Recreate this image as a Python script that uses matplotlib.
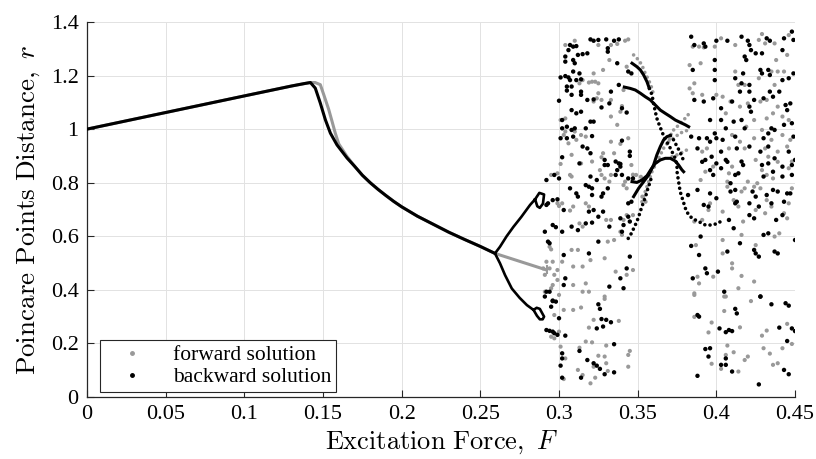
import numpy as np
import matplotlib.pyplot as plt
from matplotlib.lines import Line2D
from matplotlib.ticker import FuncFormatter

plt.rcParams['mathtext.fontset'] = 'cm'
plt.rcParams['font.family'] = ['Liberation Serif', 'DejaVu Serif']

# ---- data (F, r) ----
# stable branch before the first bifurcation
fwd_F = [0, 0.05, 0.1, 0.13, 0.142, 0.145, 0.1483, 0.1504, 0.1536, 0.1557, 0.1578,
         0.16, 0.165, 0.17, 0.175, 0.18, 0.185, 0.19, 0.195, 0.2, 0.21, 0.22, 0.23,
         0.24, 0.25, 0.2593, 0.2922]
fwd_r = [1.0, 1.062, 1.124, 1.161, 1.174, 1.174, 1.166, 1.13, 1.074, 1.03, 0.985,
         0.945, 0.9, 0.862, 0.828, 0.8, 0.775, 0.752, 0.73, 0.71, 0.675, 0.645, 0.615,
         0.588, 0.562, 0.536, 0.474]
bwd_F = [0, 0.05, 0.1, 0.13, 0.138, 0.142, 0.1451, 0.1483, 0.1515, 0.1547, 0.1589,
         0.1653, 0.17, 0.175, 0.18, 0.185, 0.19, 0.195, 0.2, 0.21, 0.22, 0.23, 0.24,
         0.25, 0.2593]
bwd_r = [1.0, 1.062, 1.124, 1.161, 1.170, 1.174, 1.153, 1.097, 1.035, 0.985, 0.941,
         0.892, 0.862, 0.828, 0.8, 0.775, 0.752, 0.73, 0.71, 0.675, 0.645, 0.615, 0.588,
         0.562, 0.536]

# period-2 branches (backward)
up_F = [0.2593, 0.2625, 0.2667, 0.271, 0.276, 0.2816, 0.2848, 0.2875, 0.2905, 0.2898,
        0.2878, 0.2862, 0.2848]
up_r = [0.536, 0.561, 0.600, 0.635, 0.672, 0.717, 0.738, 0.762, 0.756, 0.722,
        0.706, 0.712, 0.738]
lo_F = [0.2593, 0.2625, 0.2657, 0.270, 0.275, 0.2796, 0.2838, 0.2858, 0.2878, 0.2905,
        0.2896, 0.2878, 0.2860, 0.2838]
lo_r = [0.536, 0.499, 0.455, 0.405, 0.370, 0.343, 0.325, 0.333, 0.329, 0.300,
        0.290, 0.290, 0.303, 0.325]

# periodic windows inside the chaotic band (backward, solid)
bB_F = [0.3415, 0.3453, 0.3485, 0.3517, 0.3548, 0.358, 0.3612, 0.3644, 0.3675, 0.3707,
        0.3739, 0.3771, 0.3803, 0.3824]
bB_r = [1.157, 1.152, 1.146, 1.134, 1.121, 1.109, 1.090, 1.071, 1.059, 1.047,
        1.034, 1.025, 1.016, 1.009]
bA_F = [0.3464, 0.3495, 0.3517, 0.3538, 0.3559, 0.3574]
bA_r = [1.246, 1.233, 1.221, 1.202, 1.177, 1.152]
bC_F = [0.3474, 0.3506, 0.3538, 0.357, 0.3601, 0.3622, 0.3644, 0.3665, 0.3686, 0.3707]
bC_r = [0.748, 0.779, 0.804, 0.829, 0.866, 0.904, 0.935, 0.960, 0.972, 0.976]
bD_F = [0.3464, 0.3495, 0.3527, 0.3559, 0.3586, 0.3612, 0.3644, 0.3675, 0.3707, 0.3739,
        0.376, 0.3781, 0.3792]
bD_r = [0.804, 0.801, 0.810, 0.826, 0.851, 0.872, 0.885, 0.891, 0.891, 0.881,
        0.866, 0.848, 0.841]
# dotted (backward)
dA_F = [0.3574, 0.3591, 0.3601, 0.3612, 0.3622, 0.3637, 0.3654, 0.3675, 0.3697, 0.3718,
        0.3739, 0.375, 0.375, 0.376, 0.377, 0.379, 0.381, 0.3845, 0.3887, 0.393, 0.397,
        0.401, 0.404]
dA_r = [1.152, 1.128, 1.096, 1.065, 1.040, 1.016, 0.991, 0.960, 0.941, 0.916,
        0.891, 0.866, 0.841, 0.804, 0.767, 0.729, 0.692, 0.667, 0.655, 0.642, 0.642,
        0.648, 0.661]
dC_F = [0.3707, 0.3728, 0.375, 0.3769, 0.379]
dC_r = [0.976, 0.960, 0.935, 0.915, 0.885]
dF_F = [0.344, 0.346, 0.348, 0.3495, 0.351, 0.3523, 0.3538, 0.3553, 0.3565, 0.358, 0.3591]
dF_r = [0.592, 0.611, 0.636, 0.655, 0.680, 0.704, 0.729, 0.754, 0.779, 0.804, 0.829]
# dotted (forward)
g1_F = [0.3474, 0.3506, 0.3527, 0.3548, 0.357, 0.3591, 0.3601]
g1_r = [1.277, 1.258, 1.239, 1.208, 1.183, 1.152, 1.127]
g2_F = [0.3527, 0.3548, 0.357, 0.3591, 0.3612, 0.3644, 0.3665, 0.3697, 0.3718, 0.375,
        0.3781, 0.3813, 0.3834]
g2_r = [0.729, 0.767, 0.804, 0.841, 0.866, 0.904, 0.929, 0.953, 0.991, 1.009,
        1.028, 1.047, 1.065]
g3_F = [0.3697, 0.3739, 0.3781, 0.3824]
g3_r = [0.953, 0.972, 0.988, 0.997]
g4_F = [0.3718, 0.375, 0.3792, 0.3834]
g4_r = [0.897, 0.904, 0.916, 0.929]

# chaotic Poincare points, backward solution
bwd_chaos_1 = [
    (0.307, 1.314), (0.309, 1.308), (0.311, 1.310), (0.320, 1.335), (0.322, 1.330),
    (0.325, 1.333), (0.330, 1.335), (0.335, 1.330), (0.338, 1.335), (0.331, 1.302),
    (0.331, 1.289), (0.312, 1.277), (0.315, 1.280), (0.318, 1.283), (0.306, 1.295),
    (0.304, 1.271), (0.304, 1.252), (0.309, 1.258), (0.310, 1.246), (0.337, 1.246),
    (0.301, 1.193), (0.304, 1.198), (0.306, 1.193), (0.309, 1.215), (0.313, 1.208),
    (0.307, 1.183), (0.311, 1.183), (0.314, 1.186), (0.338, 1.165), (0.346, 1.208),
    (0.344, 1.215), (0.305, 1.159), (0.308, 1.159), (0.305, 1.144), (0.308, 1.128),
    (0.314, 1.140), (0.314, 1.128), (0.318, 1.109), (0.322, 1.111), (0.327, 1.081),
    (0.332, 1.096), (0.333, 1.140), (0.340, 1.078), (0.343, 1.062), (0.300, 1.106),
    (0.308, 1.071), (0.311, 1.059), (0.314, 1.065), (0.320, 1.028), (0.322, 1.028),
    (0.302, 1.034), (0.302, 1.003), (0.305, 1.009), (0.308, 0.997), (0.310, 1.003),
    (0.317, 1.003), (0.301, 0.966), (0.305, 0.966), (0.309, 0.972), (0.321, 0.974),
    (0.315, 0.935), (0.318, 0.928), (0.320, 0.910), (0.340, 0.957), (0.345, 0.916),
    (0.345, 0.900), (0.302, 0.895), (0.329, 0.885), (0.336, 0.879), (0.313, 0.872),
    (0.339, 0.870),
    (0.292, 0.810), (0.297, 0.829), (0.300, 0.816), (0.296, 0.735), (0.299, 0.738),
    (0.292, 0.717), (0.293, 0.723), (0.303, 0.698), (0.307, 0.779), (0.311, 0.760),
    (0.312, 0.748), (0.320, 0.823), (0.317, 0.791), (0.319, 0.785), (0.321, 0.779),
    (0.324, 0.810), (0.329, 0.866), (0.331, 0.866), (0.338, 0.872), (0.339, 0.860),
    (0.337, 0.847), (0.336, 0.829), (0.340, 0.829), (0.344, 0.816), (0.347, 0.816),
    (0.328, 0.760), (0.331, 0.779), (0.327, 0.748), (0.321, 0.754), (0.346, 0.729),
    (0.344, 0.723), (0.319, 0.692), (0.322, 0.698), (0.328, 0.692), (0.325, 0.673),
    (0.339, 0.667), (0.344, 0.673), (0.345, 0.655), (0.321, 0.651), (0.317, 0.648),
    (0.312, 0.623), (0.308, 0.636), (0.296, 0.642), (0.298, 0.634), (0.302, 0.617),
    (0.291, 0.617), (0.332, 0.636), (0.341, 0.642), (0.340, 0.617), (0.325, 0.580),
    (0.293, 0.580), (0.294, 0.574), (0.303, 0.530), (0.319, 0.536), (0.345, 0.524),
    (0.343, 0.480), (0.339, 0.443), (0.332, 0.412), (0.304, 0.443), (0.303, 0.418),
    (0.341, 0.406), (0.294, 0.393), (0.292, 0.393), (0.296, 0.360),
    (0.291, 0.375), (0.296, 0.358), (0.298, 0.356), (0.295, 0.337), (0.300, 0.294),
    (0.292, 0.250), (0.294, 0.247), (0.296, 0.244), (0.297, 0.238), (0.299, 0.232),
    (0.304, 0.229), (0.302, 0.163), (0.302, 0.144), (0.301, 0.117), (0.302, 0.072),
    (0.313, 0.172), (0.318, 0.138), (0.322, 0.126), (0.324, 0.117), (0.326, 0.105),
    (0.329, 0.085), (0.335, 0.092), (0.314, 0.072), (0.325, 0.346), (0.326, 0.329),
    (0.327, 0.291), (0.330, 0.288), (0.328, 0.263), (0.324, 0.256), (0.333, 0.279),
    (0.335, 0.197)]
bwd_chaos_2 = [
    (0.384, 1.345), (0.386, 1.314), (0.392, 1.320), (0.393, 1.308), (0.400, 1.330),
    (0.407, 1.330), (0.416, 1.345), (0.420, 1.330), (0.421, 1.314), (0.422, 1.295),
    (0.425, 1.283), (0.429, 1.283), (0.432, 1.339), (0.434, 1.330), (0.442, 1.295),
    (0.443, 1.339), (0.448, 1.364), (0.449, 1.333), (0.418, 1.271), (0.419, 1.258),
    (0.399, 1.258), (0.385, 1.221), (0.399, 1.221), (0.399, 1.183), (0.412, 1.190),
    (0.417, 1.208), (0.416, 1.171), (0.421, 1.165), (0.428, 1.221), (0.429, 1.208),
    (0.433, 1.221), (0.434, 1.202), (0.442, 1.183), (0.446, 1.190), (0.449, 1.208),
    (0.415, 1.140), (0.421, 1.140), (0.430, 1.115), (0.434, 1.140), (0.436, 1.121),
    (0.440, 1.140), (0.386, 1.109), (0.392, 1.103), (0.398, 1.115), (0.403, 1.078),
    (0.410, 1.103), (0.424, 1.109), (0.421, 1.084), (0.422, 1.065), (0.444, 1.090),
    (0.447, 1.096), (0.445, 1.071), (0.396, 1.034), (0.403, 1.034), (0.406, 1.003),
    (0.411, 1.028), (0.416, 1.034), (0.418, 1.003), (0.435, 1.003), (0.433, 0.984),
    (0.437, 0.997), (0.443, 1.016), (0.448, 1.022), (0.449, 0.972), (0.384, 0.972),
    (0.389, 0.966), (0.394, 0.966), (0.396, 0.953), (0.399, 0.984), (0.400, 0.966),
    (0.404, 0.960), (0.412, 0.972), (0.413, 0.928), (0.403, 0.916), (0.397, 0.897),
    (0.393, 0.885), (0.388, 0.928), (0.421, 0.935), (0.428, 0.916), (0.430, 0.966),
    (0.433, 0.935), (0.437, 0.891), (0.446, 0.916), (0.450, 0.885), (0.416, 0.879),
    (0.406, 0.885),
    (0.391, 0.878), (0.396, 0.847), (0.398, 0.829), (0.400, 0.872), (0.403, 0.854),
    (0.407, 0.878), (0.412, 0.829), (0.414, 0.835), (0.417, 0.866), (0.429, 0.866),
    (0.430, 0.823), (0.433, 0.872), (0.436, 0.841), (0.442, 0.860), (0.448, 0.866),
    (0.448, 0.829), (0.442, 0.823), (0.396, 0.760), (0.400, 0.742), (0.392, 0.717),
    (0.395, 0.711), (0.388, 0.773), (0.382, 0.754), (0.409, 0.798), (0.409, 0.767),
    (0.412, 0.773), (0.413, 0.729), (0.412, 0.723), (0.423, 0.767), (0.425, 0.748),
    (0.421, 0.723), (0.427, 0.711), (0.432, 0.754), (0.436, 0.773), (0.439, 0.767),
    (0.435, 0.723), (0.443, 0.729), (0.445, 0.760), (0.447, 0.760), (0.421, 0.679),
    (0.424, 0.667), (0.438, 0.661), (0.442, 0.679), (0.430, 0.605), (0.433, 0.611),
    (0.450, 0.586), (0.408, 0.661), (0.411, 0.630), (0.390, 0.599), (0.384, 0.564),
    (0.389, 0.530), (0.407, 0.543), (0.415, 0.574), (0.424, 0.549), (0.425, 0.536),
    (0.427, 0.524), (0.437, 0.543), (0.439, 0.536), (0.393, 0.480), (0.394, 0.462),
    (0.385, 0.443), (0.401, 0.468), (0.405, 0.393), (0.428, 0.375),
    (0.389, 0.300), (0.388, 0.306), (0.412, 0.329), (0.413, 0.312), (0.428, 0.375),
    (0.435, 0.346), (0.444, 0.350), (0.446, 0.341), (0.402, 0.256), (0.406, 0.242),
    (0.408, 0.250), (0.410, 0.246), (0.440, 0.259), (0.448, 0.256), (0.450, 0.246),
    (0.445, 0.209), (0.393, 0.179), (0.396, 0.182), (0.395, 0.151), (0.406, 0.144),
    (0.403, 0.120), (0.406, 0.120), (0.410, 0.095), (0.388, 0.079), (0.427, 0.047),
    (0.443, 0.101), (0.446, 0.085)]

# chaotic Poincare points, forward solution
fwd_chaos_1 = [
    (0.304, 1.314), (0.310, 1.330), (0.325, 1.314), (0.333, 1.314), (0.337, 1.318),
    (0.342, 1.330), (0.344, 1.335), (0.332, 1.258), (0.328, 1.221), (0.343, 1.233),
    (0.315, 1.183), (0.313, 1.171), (0.319, 1.174), (0.321, 1.177), (0.323, 1.177),
    (0.322, 1.208), (0.325, 1.171), (0.341, 1.146), (0.325, 1.134), (0.324, 1.115),
    (0.322, 1.103), (0.327, 1.109), (0.333, 1.109), (0.340, 1.086), (0.339, 1.065),
    (0.333, 1.047), (0.337, 1.016), (0.304, 1.040), (0.301, 1.034), (0.304, 0.991),
    (0.310, 0.991), (0.303, 0.978), (0.314, 0.978), (0.317, 0.972), (0.306, 0.947),
    (0.311, 0.960), (0.333, 0.953), (0.339, 0.945), (0.344, 0.966), (0.308, 0.904),
    (0.328, 0.910), (0.335, 0.910), (0.327, 0.895), (0.321, 0.879), (0.301, 0.870),
    (0.295, 0.829), (0.299, 0.835), (0.307, 0.829), (0.308, 0.823), (0.314, 0.872),
    (0.326, 0.847), (0.327, 0.829), (0.329, 0.816), (0.333, 0.829), (0.332, 0.804),
    (0.342, 0.804), (0.341, 0.791), (0.343, 0.779), (0.346, 0.866), (0.299, 0.723),
    (0.302, 0.723), (0.300, 0.713), (0.309, 0.711), (0.307, 0.696), (0.317, 0.723),
    (0.319, 0.711), (0.313, 0.648), (0.315, 0.636), (0.330, 0.661), (0.333, 0.661),
    (0.343, 0.679), (0.341, 0.661), (0.347, 0.679), (0.339, 0.617), (0.340, 0.605),
    (0.335, 0.586), (0.331, 0.580), (0.294, 0.561), (0.295, 0.551), (0.312, 0.549),
    (0.308, 0.549), (0.302, 0.505), (0.296, 0.505), (0.292, 0.505), (0.294, 0.480),
    (0.290, 0.480), (0.291, 0.456), (0.299, 0.474), (0.297, 0.456), (0.299, 0.437),
    (0.309, 0.487), (0.315, 0.487), (0.320, 0.511), (0.329, 0.518), (0.336, 0.468),
    (0.343, 0.456), (0.347, 0.474), (0.296, 0.418), (0.309, 0.418), (0.317, 0.424),
    (0.315, 0.393), (0.319, 0.393), (0.329, 0.375), (0.291, 0.393), (0.295, 0.406),
    (0.300, 0.381), (0.303, 0.325), (0.297, 0.306), (0.309, 0.325), (0.314, 0.334),
    (0.329, 0.366), (0.322, 0.288), (0.319, 0.259), (0.338, 0.284), (0.295, 0.225),
    (0.297, 0.219), (0.300, 0.244), (0.301, 0.188), (0.304, 0.144), (0.313, 0.184),
    (0.317, 0.207), (0.321, 0.204), (0.330, 0.192), (0.345, 0.172), (0.344, 0.157),
    (0.344, 0.113), (0.325, 0.154), (0.329, 0.151), (0.330, 0.126), (0.331, 0.097),
    (0.322, 0.113), (0.312, 0.101), (0.315, 0.082), (0.303, 0.067), (0.320, 0.051),
    (0.323, 0.072), (0.349, 0.829), (0.353, 0.748), (0.355, 0.729), (0.347, 0.830),
    (0.352, 0.822)]
fwd_chaos_2 = [
    (0.385, 1.308), (0.389, 1.308), (0.392, 1.305), (0.399, 1.308), (0.403, 1.339),
    (0.412, 1.314), (0.427, 1.333), (0.429, 1.355), (0.431, 1.320), (0.437, 1.320),
    (0.446, 1.351), (0.445, 1.277), (0.438, 1.258), (0.390, 1.246), (0.383, 1.239),
    (0.386, 1.171), (0.412, 1.215), (0.418, 1.165), (0.427, 1.190), (0.435, 1.215),
    (0.439, 1.215), (0.443, 1.215), (0.437, 1.165), (0.414, 1.165), (0.383, 1.152),
    (0.385, 1.134), (0.391, 1.128), (0.400, 1.128), (0.404, 1.121), (0.409, 1.103),
    (0.406, 1.059), (0.415, 1.084), (0.420, 1.096), (0.428, 1.103), (0.432, 1.109),
    (0.439, 1.084), (0.436, 1.059), (0.432, 1.040), (0.442, 1.047), (0.446, 1.034),
    (0.419, 1.009), (0.424, 1.034), (0.410, 0.978), (0.424, 0.966), (0.429, 0.997),
    (0.435, 0.960), (0.442, 0.978), (0.447, 0.960), (0.391, 0.916), (0.394, 0.928),
    (0.408, 0.928), (0.415, 0.953), (0.418, 0.928), (0.431, 0.928), (0.439, 0.916),
    (0.445, 0.935), (0.433, 0.897), (0.425, 0.885), (0.448, 0.879),
    (0.393, 0.841), (0.390, 0.810), (0.398, 0.860), (0.410, 0.860), (0.408, 0.835),
    (0.407, 0.804), (0.407, 0.785), (0.420, 0.804), (0.418, 0.779), (0.416, 0.767),
    (0.426, 0.798), (0.428, 0.779), (0.424, 0.785), (0.429, 0.847), (0.436, 0.816),
    (0.432, 0.829), (0.439, 0.878), (0.446, 0.854), (0.448, 0.779), (0.446, 0.723),
    (0.443, 0.686), (0.445, 0.667), (0.432, 0.735), (0.435, 0.711), (0.431, 0.686),
    (0.425, 0.698), (0.417, 0.655), (0.411, 0.735), (0.414, 0.711), (0.404, 0.692),
    (0.396, 0.723), (0.395, 0.698), (0.391, 0.661), (0.386, 0.655), (0.387, 0.567),
    (0.404, 0.586), (0.404, 0.536), (0.416, 0.605), (0.425, 0.567), (0.437, 0.599),
    (0.440, 0.611), (0.410, 0.499), (0.410, 0.480), (0.388, 0.449), (0.389, 0.424),
    (0.398, 0.449), (0.416, 0.452), (0.424, 0.431), (0.414, 0.406), (0.386, 0.387),
    (0.406, 0.375),
    (0.386, 0.381), (0.405, 0.375), (0.422, 0.358), (0.405, 0.321), (0.386, 0.299),
    (0.397, 0.278), (0.395, 0.241), (0.415, 0.260), (0.432, 0.248), (0.429, 0.229),
    (0.445, 0.273), (0.448, 0.198), (0.442, 0.182), (0.430, 0.182), (0.434, 0.162),
    (0.407, 0.192), (0.411, 0.167), (0.406, 0.157), (0.420, 0.151), (0.418, 0.138),
    (0.397, 0.124), (0.403, 0.105), (0.414, 0.095), (0.436, 0.120), (0.439, 0.126)]

x_ticks = [0, 0.05, 0.1, 0.15, 0.2, 0.25, 0.3, 0.35, 0.4, 0.45]
y_ticks = [0, 0.2, 0.4, 0.6, 0.8, 1.0, 1.2, 1.4]

GRAY = '#999999'
BLACK = '#000000'

fig = plt.figure(figsize=(8.16, 4.59), dpi=100)
ax = fig.add_axes([0.1066, 0.1351, 0.8677, 0.817])

dots = dict(ls=(0, (0.01, 1.45)), dash_capstyle='round', lw=2.6)

# forward (gray) first
ax.plot(fwd_F, fwd_r, color=GRAY, lw=2.2, solid_capstyle='butt', zorder=2)
ax.plot([fwd_F[-1], fwd_F[-1]], [0.462, 0.488], color=GRAY, lw=1.5, zorder=2)
for xs, ys in [(g1_F, g1_r), (g2_F, g2_r), (g3_F, g3_r), (g4_F, g4_r)]:
    ax.plot(xs, ys, color=GRAY, zorder=2, **dots)
fc = np.array(fwd_chaos_1 + fwd_chaos_2)
ax.scatter(fc[:, 0], fc[:, 1], s=9, color=GRAY, edgecolors='none', zorder=2)

# backward (black)
ax.plot(bwd_F, bwd_r, color=BLACK, lw=2.2, zorder=3)
ax.plot(up_F, up_r, color=BLACK, lw=1.9, zorder=3)
ax.plot(lo_F, lo_r, color=BLACK, lw=1.9, zorder=3)
for xs, ys in [(bA_F, bA_r), (bB_F, bB_r), (bC_F, bC_r), (bD_F, bD_r)]:
    ax.plot(xs, ys, color=BLACK, lw=2.2, zorder=3)
for xs, ys in [(dA_F, dA_r), (dC_F, dC_r), (dF_F, dF_r)]:
    ax.plot(xs, ys, color=BLACK, zorder=3, **dots)
bc = np.array(bwd_chaos_1 + bwd_chaos_2)
ax.scatter(bc[:, 0], bc[:, 1], s=10, color=BLACK, edgecolors='none', zorder=3)

ax.set_xlim(0, 0.45)
ax.set_ylim(0, 1.4)
ax.set_xticks(x_ticks)
ax.set_yticks(y_ticks)
fmt = FuncFormatter(lambda v, p: '%g' % round(v, 3))
ax.xaxis.set_major_formatter(fmt)
ax.yaxis.set_major_formatter(fmt)
ax.tick_params(direction='in', length=5, width=0.8, color='#262626',
               labelsize=16, pad=6)
ax.grid(True, color='#e2e2e2', lw=0.7)
ax.set_axisbelow(True)
for s in ['top', 'right']:
    ax.spines[s].set_visible(False)
for s in ['left', 'bottom']:
    ax.spines[s].set_color('#262626')
    ax.spines[s].set_linewidth(0.9)

ax.set_xlabel(r'$\mathrm{Excitation\ Force},\ F$', fontsize=19, labelpad=3)
ax.set_ylabel(r'$\mathrm{Poincare\ Points\ Distance},\ r$', fontsize=19.5, labelpad=6)

handles = [Line2D([], [], ls='none', marker='.', ms=5, color=GRAY),
           Line2D([], [], ls='none', marker='.', ms=5, color=BLACK)]
leg = ax.legend(handles, ['forward solution', 'backward solution'],
                loc='lower left', bbox_to_anchor=(0.018, 0.013), borderaxespad=0,
                fancybox=False, framealpha=1, edgecolor='#262626', fontsize=15.5,
                handlelength=2.6, handletextpad=0.6, borderpad=0.22,
                labelspacing=0.1)
leg.get_frame().set_linewidth(0.8)

fig.savefig('out.png', dpi=100)
